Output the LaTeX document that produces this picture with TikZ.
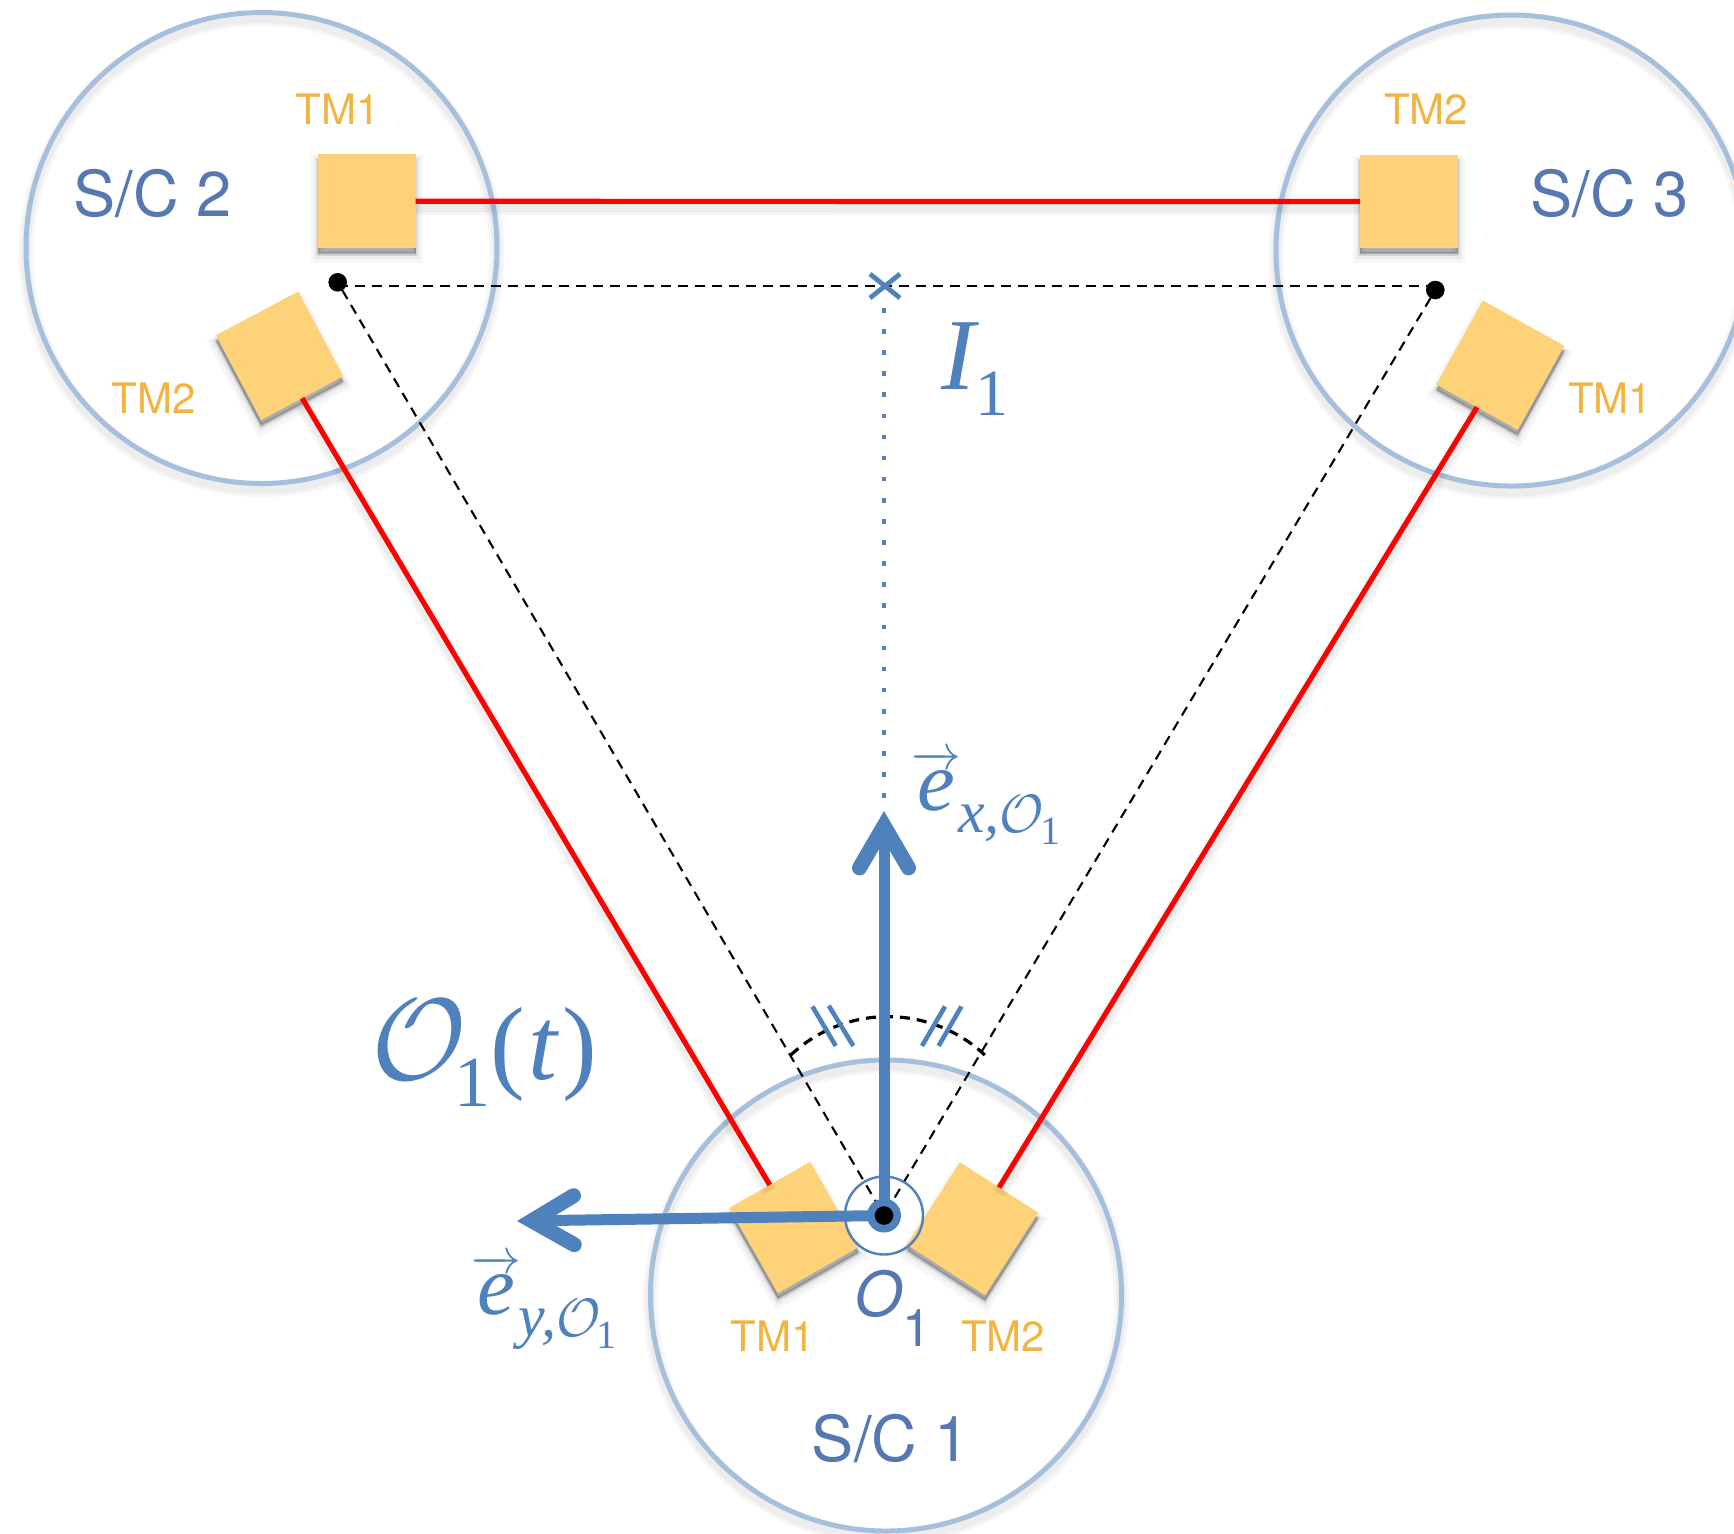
\documentclass[tikz,border=0pt]{standalone}
\usepackage{amsmath}
\usepackage{graphicx}
\usepackage{fontspec}
\setmainfont{Liberation Serif}
\newfontfamily\hel{TeX Gyre Heros}
\usetikzlibrary{arrows.meta}
\definecolor{ringblue}{HTML}{A5BFDD}
\definecolor{mathblue}{HTML}{4F81BD}
\definecolor{capblue}{HTML}{5578B2}
\definecolor{tmtext}{HTML}{F2B441}
\definecolor{tmfill}{HTML}{FDD278}
\definecolor{beamred}{HTML}{FF0000}
\newcommand{\fs}[1]{\fontsize{#1}{#1}\selectfont}
\newcommand{\calO}[1]{\scalebox{#1}{\fs{10}$\mathcal{O}$}}
\newcommand{\evecsub}[1]{\fs{42.5}$\overrightarrow{\hbox{\itshape e}}$\kern-1.5pt\raisebox{-11pt}{\fs{30}\itshape #1}\raisebox{-11pt}{\calO{2.7}}\kern-2pt\raisebox{-17pt}{\fs{20}1}}
\tikzset{
  softline/.style={preaction={draw=black,draw opacity=.035,line width=#1+5pt,transform canvas={yshift=-3pt}},
                   preaction={draw=black,draw opacity=.035,line width=#1+2pt,transform canvas={yshift=-3pt}}},
  craft/.style={circle,draw=ringblue,line width=2.5pt,minimum size=235.5pt,inner sep=0pt,outer sep=0pt,softline=2.5pt},
  testmass/.style={rectangle,fill=tmfill,inner sep=0pt,outer sep=0pt,minimum width=46.5pt,minimum height=48pt,
     preaction={fill=black,fill opacity=.03,draw=black,draw opacity=.03,line width=7pt,transform canvas={yshift=-4pt}},
     preaction={fill=black,fill opacity=.04,draw=black,draw opacity=.04,line width=4pt,transform canvas={yshift=-3.5pt}},
     preaction={fill=black,fill opacity=.08,draw=black,draw opacity=.07,line width=2pt,transform canvas={yshift=-3pt}},
     preaction={fill=black,fill opacity=.18,draw=black,draw opacity=.08,line width=.8pt,transform canvas={yshift=-2.5pt}}},
  beam/.style={draw=beamred,line width=2.6pt,softline=2.6pt},
  dashline/.style={draw=black,line width=1.05pt,dash pattern=on 5pt off 3.5pt},
  dotline/.style={draw=mathblue,line width=2.3pt,dash pattern=on 2.3pt off 8.25pt},
  tick/.style={draw=mathblue,line width=2.3pt},
  tmlabel/.style={text=tmtext,font=\hel\fs{21},inner sep=0pt},
  sclabel/.style={text=capblue,font=\hel\fs{31.6},inner sep=0pt},
  mathlabel/.style={text=mathblue,inner sep=0pt,anchor=base west},
  vecarrow/.style={draw=mathblue,line width=5.5pt,
     -{Straight Barb[length=21pt,width=24.5pt,line width=7.5pt,line cap=round,line join=miter]}},
  blackdot/.style={circle,fill=black,inner sep=0pt,outer sep=0pt,minimum size=9.3pt},
}
\begin{document}
\begin{tikzpicture}[x=0.5pt,y=-0.5pt]
\fill[white] (0,0) rectangle (1734,1533);
\clip (0,0) rectangle (1734,1533);
% spacecraft
\node[craft] (sc2) at (261.5,248) {};
\node[craft] (sc3) at (1511.5,250.5) {};
\node[craft] (sc1) at (886,1295.5) {};
% test masses
\node[testmass,minimum width=49pt,minimum height=47pt] (a1) at (366.5,201.3) {};
\node[testmass,minimum width=49pt,minimum height=46.5pt] (b2) at (1409,201.5) {};
\node[testmass,rotate=28] (a2) at (279.6,355.8) {};
\node[testmass,rotate=-29] (b1) at (1500.3,365.2) {};
\node[testmass,rotate=29.7,minimum height=49pt] (c1) at (794,1227.5) {};
\node[testmass,rotate=-32.8,minimum height=49pt] (c2) at (972.5,1228.7) {};
% beams
\draw[beam] (a1.east) -- (b2.west);
\draw[beam] (a2.south) -- (c1.north);
\draw[beam] (b1.south) -- (c2.north);
% reference points
\node[blackdot] (p2) at (337.7,282.3) {};
\node[blackdot] (p3) at (1435.3,290) {};
\coordinate (o) at (884,1215.5);
\coordinate (i1) at (885,286.3);
\coordinate (top) at (884,811);
\coordinate (left) at (517,1221);
\draw[dashline] (p2.center |- i1) -- (p3.center |- i1);
\draw[dashline] (p2) -- (o);
\draw[dashline] (p3) -- (o);
% dashed arc and double ticks
\coordinate (arcstart) at (790.8,1055);
\draw[draw=black,line width=1.6pt,dash pattern=on 5pt off 3.5pt] (arcstart) arc[start angle=-133.2,end angle=-46.8,radius=141.7];
\coordinate (t1a) at (812.4,1006.4); \coordinate (t1b) at (835.7,1045.9);
\coordinate (t2a) at (828.8,1005.7); \coordinate (t2b) at (853.3,1045.9);
\coordinate (t3a) at (945,1006.4);   \coordinate (t3b) at (922,1045.9);
\coordinate (t4a) at (961.4,1006.4); \coordinate (t4b) at (938.6,1045.9);
\draw[tick] (t1a) -- (t1b);
\draw[tick] (t2a) -- (t2b);
\draw[tick] (t3a) -- (t3b);
\draw[tick] (t4a) -- (t4b);
% dotted line and cross
\coordinate (dotstart) at (884,308);
\coordinate (dotend) at (884,808);
\draw[dotline] (dotstart) -- (dotend);
\coordinate (x1) at (870,274); \coordinate (x2) at (900,298);
\coordinate (x3) at (870,298); \coordinate (x4) at (900,274);
\draw[draw=mathblue,line width=2.4pt] (x1) -- (x2);
\draw[draw=mathblue,line width=2.4pt] (x3) -- (x4);
% axes
\draw[vecarrow] (o) -- (top);
\draw[vecarrow] (o) -- (left);
% origin
\node[circle,draw=mathblue,line width=1.2pt,minimum size=39pt,inner sep=0pt,outer sep=0pt] (ring) at (o) {};
\node[circle,fill=mathblue,minimum size=17pt,inner sep=0pt,outer sep=0pt] (hub) at (o) {};
\node[blackdot] (pivot) at (o) {};
% labels
\node[sclabel] (l2) at (152.7,194) {S/C 2};
\node[sclabel] (l3) at (1609.8,194) {S/C 3};
\node[sclabel] (l1) at (891,1438) {S/C 1};
\node[tmlabel] (n1) at (337.5,109) {TM1};
\node[tmlabel] (n2) at (153.5,398) {TM2};
\node[tmlabel] (n3) at (1426,109) {TM2};
\node[tmlabel] (n4) at (1610,398) {TM1};
\node[tmlabel] (n5) at (772.5,1336) {TM1};
\node[tmlabel] (n6) at (1003,1336) {TM2};
\node[mathlabel] (ilab) at (941,389) {\fs{51}\itshape I\raisebox{-13pt}{\fs{33}\upshape 1}};
\node[mathlabel] (olab) at (371,1079) {\scalebox{5.8}{\fs{10}$\mathcal{O}$}\kern-6pt\raisebox{-13.5pt}{\fs{36}1}\fs{52}(\kern1.5pt\textit{t}\kern1.5pt)};
\node[mathlabel] (ex) at (911,810) {\evecsub{x,}};
\node[mathlabel] (ey) at (471,1314) {\evecsub{y,}};
\node[text=capblue,inner sep=0pt,anchor=base west] (oname) at (854,1316) {\hel\fs{31}\itshape O\raisebox{-15pt}{\fs{26}\upshape 1}};
\end{tikzpicture}
\end{document}
